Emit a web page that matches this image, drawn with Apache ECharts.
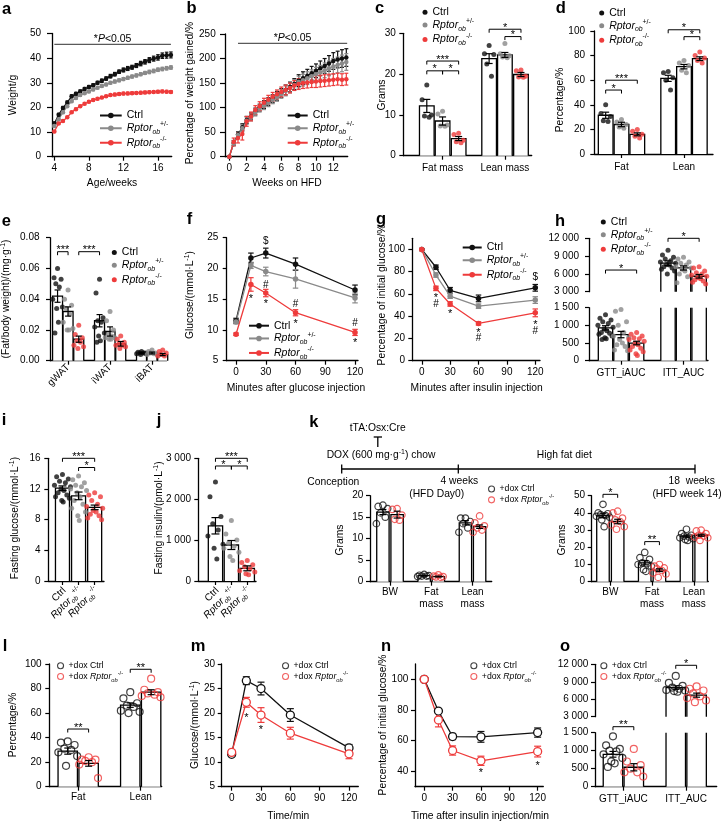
<!DOCTYPE html>
<html>
<head>
<meta charset="utf-8">
<script src="https://cdn.jsdelivr.net/npm/echarts@6.0.0/dist/echarts.min.js"></script>
<style>
html,body{margin:0;padding:0;background:#ffffff;}
#chart{width:721px;height:821px;}
</style>
</head>
<body>
<div id="chart"></div>
<script>
// ================= DATA =================
const groupNames = ['Ctrl', 'Rptor+/-', 'Rptor-/-'];
const doxNames = ['+dox Ctrl', '+dox Rptor-/-'];

// (a) body weight vs age
const aWeeks = [4,4.5,5,5.5,6,6.5,7,7.5,8,8.5,9,9.5,10,10.5,11,11.5,12,12.5,13,13.5,14,14.5,15,15.5,16,16.5,17,17.5];
const aCtrl = [13.5,17,19.8,22,24.5,25.5,26.5,27.5,28.3,29,30,30.8,31.7,32.7,33.5,34.5,35.2,35.8,36.3,37,37.8,38.5,39.2,39.8,40.3,41,41.2,41.3];
const aCtrlSem = [0.6,0.6,0.6,0.6,0.6,0.6,0.6,0.6,0.6,0.6,0.6,0.7,0.7,0.7,0.7,0.7,0.8,0.8,0.8,0.8,0.9,0.9,1,1,1.1,1.1,1.2,1.2];
const aHet = [12.5,15.2,18,20.5,22.5,23.8,25,25.8,26.5,27.3,28,28.7,29.3,30,30.5,31,31.5,32,32.5,33,33.5,34,34.4,34.8,35.3,35.6,35.9,36.2];
const aHetSem = [0.5,0.5,0.5,0.5,0.5,0.5,0.5,0.5,0.5,0.5,0.5,0.5,0.5,0.5,0.6,0.6,0.6,0.6,0.6,0.6,0.6,0.6,0.7,0.7,0.7,0.7,0.7,0.7];
const aKo = [10.2,13.5,14.5,16,18,19.3,20.5,21.5,22.3,23,23.5,24,24.5,25,25.2,25.4,25.6,25.7,25.8,25.9,26,26.1,26.2,26.3,26.4,26.5,26.4,26.3];
const aKoSem = [0.4,0.4,0.4,0.4,0.4,0.4,0.4,0.4,0.4,0.4,0.4,0.4,0.4,0.4,0.5,0.5,0.5,0.5,0.5,0.5,0.5,0.5,0.5,0.5,0.5,0.5,0.5,0.5];
const aXTicks = [4,8,12,16];
const aYTicks = [0,10,20,30,40,50];
const aSig = [4, 17.5, 45.6];

// (b) weight gained
const bWeeks = [0,0.5,1,1.5,2,2.5,3,3.5,4,4.5,5,5.5,6,6.5,7,7.5,8,8.5,9,9.5,10,10.5,11,11.5,12,12.5,13,13.5];
const bCtrl = [0,28,45,60,75,82,92,100,106,112,118,124,130,136,142,148,155,160,165,170,175,180,185,190,195,198,200,202];
const bCtrlSem = [0,5,6,7,7,7,7,7,8,8,8,9,9,10,10,11,12,13,13,14,14,15,15,16,17,17,18,18];
const bHet = [0,27,44,58,73,80,90,98,104,110,116,122,128,134,140,146,152,156,160,164,168,172,176,180,184,187,190,193];
const bHetSem = [0,5,6,7,7,7,7,7,8,8,8,9,9,10,10,11,12,12,13,13,14,14,15,15,16,16,17,17];
const bKo = [0,30,38,46,72,82,95,103,110,116,122,127,132,136,140,145,148,150,151,152,153,154,155,156,157,158,157,158];
const bKoSem = [0,8,10,12,10,9,9,9,9,9,9,9,10,10,10,10,11,11,11,11,12,12,12,12,12,12,12,12];
const bXTicks = [0,2,4,6,8,10,12];
const bYTicks = [0,50,100,150,200,250];
const bSig = [1, 13.6, 231];

// (c) body composition, grams
const cCats = ['Fat mass', 'Lean mass'];
const cYTicks = [0,10,20,30];
const cMeans = [[12.2,23.8],[8.5,24.7],[4.2,19.9]];
const cSems = [[1.6,1.2],[1.0,0.6],[0.5,0.5]];
const cDots = [
  [[17.3,13.7,10,9.7,9.4],[27,25,24.8,22.5,19.5]],
  [[10.9,10.2,7.5,7.2,7.3],[27.5,25,24.5,24,24.2]],
  [[5.5,5.2,3.8,3.4,3.2],[21,20.8,19.5,19.3,19.2]]];
const cBrackets = [[0,0,0,2,23.2,'***'],[0,0,0,1,20.8,'*'],[0,1,0,2,20.8,'*'],[1,0,1,2,31,'*'],[1,1,1,2,29.2,'*']];

// (d) body composition, %
const dCats = ['Fat', 'Lean'];
const dYTicks = [0,20,40,60,80,100];
const dMeans = [[31.5,61.5],[24,71],[16,77.5]];
const dSems = [[2.5,2.5],[1.8,1.8],[1.2,1.5]];
const dDots = [
  [[40,33,30.5,27,26.5],[67,66,62,60,52]],
  [[28,26,24,22,21],[76,74,72,68,66]],
  [[20,18.5,16,14.5,13],[83,80,78,76,74]]];
const dBrackets = [[0,0,0,1,52,'*'],[0,0,0,2,60,'***'],[1,0,1,2,101,'*'],[1,1,1,2,95.4,'*']];

// (e) fat depots
const eCats = ['gWAT', 'iWAT', 'iBAT'];
const eYTicks = [0,0.02,0.04,0.06,0.08];
const eMeans = [[0.042,0.026,0.005],[0.032,0.019,0.005],[0.014,0.011,0.004]];
const eSems = [[0.004,0.004,0.0005],[0.003,0.003,0.0006],[0.002,0.0015,0.0007]];
const eDots = [
  [[0.060,0.054,0.053,0.050,0.048,0.040,0.035,0.034,0.025,0.018],[0.053,0.044,0.028,0.026,0.025,0.022,0.018,0.016,0.013,0.012],[0.006,0.0055,0.005,0.005,0.0045,0.0045,0.004,0.005]],
  [[0.046,0.040,0.036,0.034,0.030,0.025,0.021,0.020,0.020],[0.032,0.026,0.020,0.017,0.016,0.015,0.015,0.014,0.014],[0.007,0.006,0.005,0.005,0.0045,0.004,0.004]],
  [[0.023,0.017,0.015,0.013,0.012,0.010,0.009,0.008],[0.016,0.014,0.012,0.011,0.010,0.010,0.009,0.008],[0.007,0.006,0.005,0.004,0.003,0.003]]];
const eBrackets = [[0,0,0,1,0.0709,'***'],[0,2,1,0,0.0709,'***']];

// (f) GTT
const fTimes = [0,15,30,60,120];
const fXTicks = [0,30,60,90,120];
const fYTicks = [5,10,15,20,25];
const fCtrl = [11.5,21.7,22.5,20.7,16.5];
const fCtrlSem = [0.4,0.8,0.8,1.0,0.8];
const fHet = [11.3,20.5,19.5,18.3,15.2];
const fHetSem = [0.3,0.5,0.7,1.5,0.8];
const fKo = [9.3,17.4,16.0,12.8,9.6];
const fKoSem = [0.2,1.1,0.6,0.5,0.5];
const fMarks = [[30,24.35,'$'],[15,15.4,'*'],[30,17.3,'#'],[30,14.6,'*'],[60,14.2,'#'],[60,11.3,'*'],[120,11.1,'#'],[120,8.25,'*']];

// (g) ITT
const gTimes = [0,15,30,60,120];
const gXTicks = [0,30,60,90,120];
const gYTicks = [0,20,40,60,80,100];
const gCtrl = [100,84,63.3,56,65.5];
const gCtrlSem = [0.5,2,2.5,3,3];
const gHet = [100,77,58,49,54.5];
const gHetSem = [0.5,2,2,2,3];
const gKo = [100,65,51,33.5,43];
const gKoSem = [0.5,2,2,1.5,3.5];
const gMarks = [[15,59,'*'],[15,50.6,'#'],[30,44,'*'],[60,27.5,'*'],[60,20,'#'],[120,75.4,'$'],[120,34,'*'],[120,26.7,'#']];

// (h) AUC
const hCats = ['GTT_iAUC', 'ITT_AUC'];
const hUpTicks = [3000,6000,9000,12000];
const hLowTicks = [0,500,1000,1500];
const hMeans = [[930,7800],[740,7000],[500,5600]];
const hSems = [[60,400],[90,350],[50,300]];
const hDots = [
  [[1300,1200,1150,1100,1050,1000,950,900,850,800,780,750,700,650,620,600],[10000,9200,8800,8500,8200,8000,7800,7600,7500,7200,7000,6800,6500,6000]],
  [[1450,1400,1100,1000,800,700,650,600,500,450,400,300,280],[8800,8500,8000,7800,7500,7200,7000,6800,6500,6000,5500,4500]],
  [[800,750,700,650,620,600,550,500,450,400,350,300,250,200,150],[7200,7000,6500,6200,6000,5800,5600,5400,5200,5000,4800,4600,4300]]];
const hBracketsUp = [[0,0,0,2,6650,'*'],[1,0,1,2,12000,'*']];

// (i) fasting glucose
const iCats = ['Ctrl', 'Rptor+/-', 'Rptor-/-'];
const iYTicks = [0,4,8,12,16];
const iMeans = [12.1,11.1,9.6];
const iSems = [0.3,0.5,0.3];
const iDots = [
  [13.9,13.6,13.3,13.0,12.8,12.5,12.3,12.0,11.8,11.5,11.2,11.0,10.8,10.5,10.3],
  [13.7,13.2,12.8,12.5,12.3,12.0,11.8,11.5,11.0,10.5,10.0,9.5,9.0,8.5,7.9],
  [11.5,11.2,11.0,10.5,10.0,9.7,9.5,9.2,9.0,8.7,8.5,8.2,8.0]];
const iBrackets = [[0,0,2,0,16,'***'],[1,0,2,0,14.8,'*']];

// (j) fasting insulin
const jCats = ['Ctrl', 'Rptor+/-', 'Rptor-/-'];
const jYTicks = [0,1000,2000,3000];
const jMeans = [1350,880,310];
const jSems = [200,110,60];
const jDots = [
  [2420,2060,1580,1400,1250,1100,900,800,540],
  [1480,1150,1000,920,850,800,700,600,500],
  [500,450,400,350,300,250,220,180,150]];
const jBrackets = [[0,0,2,0,3000,'***'],[0,0,1,0,2812,'*'],[1,0,2,0,2812,'*']];

// (k) dox model body composition
const kCats = ['BW', 'Fat\nmass', 'Lean\nmass'];
const kDay0Ticks = [0,5,10,15,20];
const kDay0Means = [[16.2,1.4,13.7],[15.6,1.2,12.8]];
const kDay0Sems = [[0.6,0.1,0.5],[0.8,0.1,0.4]];
const kDay0Dots = [
  [[17.8,17.5,17.0,16.0,15.0,13.5],[1.7,1.5,1.4,1.3,1.2,1.3],[14.8,14.8,14.0,13.5,12.5,11.5]],
  [[17.0,16.8,15.5,14.5,14.3],[1.6,1.3,1.2,1.0,1.1],[15.3,13.7,13.0,12.5,12.0,11.5]]];
const kWk14Ticks = [0,10,20,30,40,50];
const kWk14Means = [[38.5,11,26.5],[35,6.7,27]];
const kWk14Sems = [[1.3,1.2,0.6],[1.3,0.8,0.6]];
const kWk14Dots = [
  [[45,40,39.5,39,38.5,38,37.5,36,32],[17,14,13,11,10.5,10,9,7,6],[30.5,28,27,26.5,26,25.5,25,24.5,24]],
  [[41,40,37,36,35,33,32,30.5],[10,9,8,7.5,6.5,5,4.5,2.5],[30,29.5,28,27,26.5,26,25.5,24]]];
const kWk14Brackets = [[0,0,0,1,50.8,'*'],[1,0,1,1,23.3,'**']];

// (l) dox body composition %
const lCats = ['Fat', 'Lean'];
const lYTicks = [0,20,40,60,80,100];
const lMeans = [[29,66.5],[19,77]];
const lSems = [[2.5,1.8],[2.3,2.0]];
const lDots = [
  [[37,36,34,31,30,28,25,17],[77,72,68,66,65,62,61,60]],
  [[24,22,22,21,20,18,7],[88,79,77,76,75,74,73]]];
const lBrackets = [[0,0,0,1,47,'**'],[1,0,1,1,95.7,'**']];

// (m) dox GTT
const mTimes = [0,15,30,60,120];
const mXTicks = [0,30,60,90,120];
const mYTicks = [5,10,15,20,25,30];
const mCtrl = [11.6,26.6,25.0,19.6,12.9];
const mCtrlSem = [0.4,0.8,1.3,1.3,0.7];
const mKo = [12.0,22.2,19.6,15.9,11.7];
const mKoSem = [0.5,1.0,1.5,1.2,1.0];
const mMarks = [[15,19.6,'*'],[30,17.0,'*']];

// (n) dox ITT
const nTimes = [0,15,30,60,120];
const nXTicks = [0,30,60,90,120];
const nYTicks = [40,60,80,100];
const nCtrl = [100,79.3,62.7,62.5,65.3];
const nCtrlSem = [0.5,1.5,2,3.5,3];
const nKo = [100,73.5,53.6,46.9,52.9];
const nKoSem = [0.5,4.5,3,3,3.5];
const nMarks = [[60,40.4,'*'],[120,45,'*']];

// (o) dox AUC
const oCats = ['GTT_iAUC', 'ITT_AUC'];
const oUpTicks = [3000,6000,9000,12000];
const oLowTicks = [0,500,1000,1500];
const oMeans = [[900,8000],[540,6700]];
const oSems = [[80,300],[100,350]];
const oDots = [
  [[1400,1150,1050,1000,980,900,800,700,650,550],[10000,8800,8300,8000,7800,7600,7500,7400,7300]],
  [[1050,700,600,500,400,400,280],[8200,7800,7500,7000,6500,6200,5800,5500]]];
const oBracketsUp = [[1,0,1,1,11830,'*']];
const oBracketsLow = [[0,0,0,1,1667,'**']];

// ================= STYLE / BUILDERS =================
const FONT = '"Liberation Sans", Arial, Helvetica, sans-serif';
const C_BLK = '#111111', C_GRY = '#8a8a8a', C_RED = '#ee3b3b';
const GROUPS3 = [{name:'Ctrl', color:C_BLK}, {name:'Rptor+/-', color:C_GRY}, {name:'Rptor-/-', color:C_RED}];
const GROUPS2 = [{name:'+dox Ctrl', color:C_BLK, open:true}, {name:'+dox Rptor-/-', color:C_RED, open:true}];
const JIT = [0,-0.32,0.32,-0.16,0.16,-0.44,0.44,-0.08,0.08,-0.24,0.24,-0.38,0.38,-0.04,0.04,-0.2,0.2,-0.12];

const LEG = {
  'Ctrl': '{n|Ctrl}',
  'Rptor+/-': '{i|Rptor}{sb|ob}{sp|+/-}',
  'Rptor-/-': '{i|Rptor}{sb|ob}{sp|-/-}',
  '+dox Ctrl': '{n|+dox Ctrl}',
  '+dox Rptor-/-': '{m|+dox }{i|Rptor}{sb|ob}{sp|-/-}'
};
function legRich(fs) {
  return {
    n: {fontSize:fs, fontFamily:FONT, color:'#000', lineHeight:fs+1},
    m: {fontSize:fs, fontFamily:FONT, color:'#000', lineHeight:fs+4},
    i: {fontSize:fs, fontFamily:FONT, fontStyle:'italic', color:'#000', lineHeight:fs+4},
    sb:{fontSize:fs*0.66, fontFamily:FONT, fontStyle:'italic', color:'#000', verticalAlign:'bottom', lineHeight:fs*0.7},
    sp:{fontSize:fs*0.66, fontFamily:FONT, color:'#000', verticalAlign:'top', lineHeight:fs*0.7}
  };
}
function zrRich(fs) {
  return {
    n: {fontSize:fs, fontFamily:FONT, fill:'#000', lineHeight:fs+1},
    i: {fontSize:fs, fontFamily:FONT, fontStyle:'italic', fill:'#000', lineHeight:fs+4},
    sb:{fontSize:fs*0.66, fontFamily:FONT, fontStyle:'italic', fill:'#000', verticalAlign:'bottom', lineHeight:fs*0.7},
    sp:{fontSize:fs*0.66, fontFamily:FONT, fill:'#000', verticalAlign:'top', lineHeight:fs*0.7}
  };
}
const fmtK = v => String(v).replace(/\B(?=(\d{3})+(?!\d))/g, ' ');

const grids = [], xAxis = [], yAxis = [], series = [], legend = [], graphic = [];
function addGrid(l, r, t, b) {
  grids.push({left:l, top:t, width:r-l, height:b-t, containLabel:false, outerBoundsMode:'none', show:false});
  return grids.length - 1;
}
function vAxis(gi, min, max, o) {
  o = o || {};
  const lab = {show: !o.noLabel, color:'#000', fontSize:10, fontFamily:FONT,
    margin:(o.margin != null ? o.margin : 8), rotate:o.rotate || 0, customValues:o.ticks,
    showMinLabel:true, showMaxLabel:true, hideOverlap:false};
  if (o.fmt) lab.formatter = o.fmt;
  if (o.rich) lab.rich = o.rich;
  if (o.lh) lab.lineHeight = o.lh;
  return {gridIndex:gi, type:'value', min:min, max:max, show:o.show !== false,
    axisLine:{show:true, onZero:false, lineStyle:{color:'#000', width:1.3}},
    axisTick:{show:true, length:(o.tickLen || 4), customValues:o.ticks, lineStyle:{color:'#000', width:1.2}},
    axisLabel:lab, splitLine:{show:false}, minorTick:{show:false}, silent:true};
}
function addX(a) { xAxis.push(a); return xAxis.length - 1; }
function addY(a) { yAxis.push(a); return yAxis.length - 1; }

function errSeries(xi, yi, data, color, capPx, z) {
  return {type:'custom', xAxisIndex:xi, yAxisIndex:yi, z:z, silent:true, clip:false, data:data,
    renderItem: function (p, api) {
      const x = api.value(0), m = api.value(1), e = api.value(2);
      const hi = api.coord([x, m + e]), lo = api.coord([x, m - e]);
      const st = {stroke:color, lineWidth:1.2};
      return {type:'group', children:[
        {type:'line', shape:{x1:hi[0], y1:hi[1], x2:lo[0], y2:lo[1]}, style:st},
        {type:'line', shape:{x1:hi[0]-capPx/2, y1:hi[1], x2:hi[0]+capPx/2, y2:hi[1]}, style:st},
        {type:'line', shape:{x1:lo[0]-capPx/2, y1:lo[1], x2:lo[0]+capPx/2, y2:lo[1]}, style:st}]};
    }};
}

function linePanel(xi, yi, t, list, o) {
  list.forEach(function (s) {
    if (s.sems) series.push(errSeries(xi, yi, t.map((x, i) => [x, s.vals[i], s.sems[i]]), s.color, o.cap, 2));
    series.push({type:'line', name:s.name, xAxisIndex:xi, yAxisIndex:yi, z:3, silent:true,
      data:t.map((x, i) => [x, s.vals[i]]), symbol:'circle', symbolSize:o.sym, showSymbol:true,
      lineStyle:{color:s.color, width:1.3},
      itemStyle: s.open ? {color:'#ffffff', borderColor:s.color, borderWidth:1.3} : {color:s.color}});
  });
}

function groupSpecs(nCat, off, means, sems, dots, groups) {
  const out = [];
  groups.forEach(function (g, gi) {
    for (let c = 0; c < nCat; c++) {
      out.push({x:c + off[gi], mean:means[gi][c], sem:sems[gi][c], dots:dots[gi][c], name:g.name, color:g.color, open:g.open});
    }
  });
  return out;
}

function barPanel(xi, yi, specs, o) {
  const ymin = o.ymin, ymax = o.ymax, bw = o.bw;
  const inRange = v => v >= ymin - 1e-9 && v <= ymax + 1e-9;
  series.push({type:'custom', xAxisIndex:xi, yAxisIndex:yi, z:2, silent:true, clip:false,
    data: specs.map(s => [s.x, s.mean]),
    renderItem: function (p, api) {
      const x = api.value(0), m = api.value(1);
      if (m < ymin) return null;
      const top = Math.min(m, ymax);
      const bl = api.coord([x - bw/2, ymin]), br = api.coord([x + bw/2, ymin]);
      const tl = api.coord([x - bw/2, top]), tr = api.coord([x + bw/2, top]);
      const st = {stroke:'#000', lineWidth:1.3, fill:null};
      const ch = [{type:'rect', shape:{x:tl[0], y:tl[1], width:tr[0]-tl[0], height:bl[1]-tl[1]}, style:{fill:'#ffffff'}}];
      if (m <= ymax) ch.push({type:'polyline', shape:{points:[bl, tl, tr, br]}, style:st});
      else {
        ch.push({type:'line', shape:{x1:bl[0], y1:bl[1], x2:tl[0], y2:tl[1]}, style:st});
        ch.push({type:'line', shape:{x1:br[0], y1:br[1], x2:tr[0], y2:tr[1]}, style:st});
      }
      return {type:'group', children:ch};
    }});
  const byName = {}, order = [];
  specs.forEach(function (s) {
    if (!byName[s.name]) { byName[s.name] = {color:s.color, open:s.open, pts:[]}; order.push(s.name); }
    const sorted = s.dots.slice().sort((a, b) => b - a);
    sorted.forEach(function (v, i) {
      if (inRange(v)) byName[s.name].pts.push([s.x + JIT[i % JIT.length] * bw * (o.spread || 1), v]);
    });
  });
  order.forEach(function (k) {
    const g = byName[k];
    series.push({type:'scatter', name:k, xAxisIndex:xi, yAxisIndex:yi, z:4, silent:true, data:g.pts,
      symbol:'circle', symbolSize: g.open ? (o.openSize || 6.5) : (o.dotSize || 5),
      itemStyle: g.open ? {color:'rgba(255,255,255,0)', borderColor:g.color, borderWidth:1.2} : {color:g.color}});
  });
  const errs = specs.filter(s => inRange(s.mean)).map(s => [s.x, s.mean, s.sem]);
  series.push(errSeries(xi, yi, errs, '#000', o.cap || 7, 5));
}

// rotated category labels drawn through the axis scale (for narrow bar panels i, j)
function catLabelSeries(xi, yi, cats, ymin) {
  series.push({type:'custom', xAxisIndex:xi, yAxisIndex:yi, z:6, silent:true, clip:false,
    data: cats.map((c, k) => [k, ymin]),
    renderItem: function (p, api) {
      const c = api.coord([api.value(0), api.value(1)]);
      return {type:'text', x:c[0] + 2, y:c[1] + 8, rotation:Math.PI/4,
        style:{text:LEG[cats[p.dataIndex]], fill:'#000', fontSize:10, fontFamily:FONT, align:'right', verticalAlign:'middle', rich:zrRich(10)}};
    }});
}

function bracketSeries(xi, yi, list, off) {
  series.push({type:'custom', xAxisIndex:xi, yAxisIndex:yi, z:6, silent:true, clip:false,
    data: list.map(b => [b[0] + off[b[1]], b[2] + off[b[3]], b[4]]),
    renderItem: function (p, api) {
      const text = list[p.dataIndex][5];
      const p1 = api.coord([api.value(0), api.value(2)]), p2 = api.coord([api.value(1), api.value(2)]);
      const t = 3.5;
      return {type:'group', children:[
        {type:'polyline', shape:{points:[[p1[0], p1[1]+t], [p1[0], p1[1]], [p2[0], p2[1]], [p2[0], p2[1]+t]]}, style:{stroke:'#000', lineWidth:1, fill:null}},
        {type:'text', x:(p1[0]+p2[0])/2, y:p1[1]-1.5, style:{text:text, fill:'#000', fontSize:11, fontFamily:FONT, align:'center', verticalAlign:'middle'}}]};
    }});
}

function annSeries(xi, yi, list) {
  series.push({type:'custom', xAxisIndex:xi, yAxisIndex:yi, z:6, silent:true, clip:false,
    data: list.map(a => [a[0], a[1]]),
    renderItem: function (p, api) {
      const t = list[p.dataIndex][2];
      const c = api.coord([api.value(0), api.value(1)]);
      return {type:'text', x:c[0], y:c[1] + (t === '*' ? 2.5 : 0), style:{text:t, fill:'#000', fontSize:t === '*' ? 11 : 10, fontFamily:FONT, align:'center', verticalAlign:'middle'}};
    }});
}

function sigSeries(xi, yi, sig) {
  series.push({type:'custom', xAxisIndex:xi, yAxisIndex:yi, z:6, silent:true, clip:false, data:[sig],
    renderItem: function (p, api) {
      const a = api.coord([api.value(0), api.value(2)]), b = api.coord([api.value(1), api.value(2)]);
      return {type:'group', children:[
        {type:'line', shape:{x1:a[0], y1:a[1], x2:b[0], y2:b[1]}, style:{stroke:'#5a5a5a', lineWidth:1.3}},
        {type:'text', x:(a[0]+b[0])/2, y:a[1]-5, style:{text:'{n|*}{i|P}{n|<0.05}', fill:'#000', fontSize:10.5, fontFamily:FONT, align:'center', verticalAlign:'middle',
          rich:{n:{fontSize:10.5, fontFamily:FONT, fill:'#000'}, i:{fontSize:10.5, fontFamily:FONT, fontStyle:'italic', fill:'#000'}}}}]};
    }});
}

function mkLegend(names, left, top, o) {
  const L = {show:true, orient:'vertical', left:left, top:top, padding:0, data:names, selectedMode:false,
    itemWidth:o.iw, itemHeight:o.ih, itemGap:o.gap, formatter:n => LEG[n],
    textStyle:{color:'#000', fontFamily:FONT, fontSize:o.fs, rich:legRich(o.fs)}};
  if (o.icon) L.icon = o.icon;
  if (o.itemStyle) L.itemStyle = o.itemStyle;
  legend.push(L);
}

const TR = {
  n:{fontSize:10.3, fontFamily:FONT, fill:'#000', lineHeight:13},
  s:{fontSize:7, fontFamily:FONT, fill:'#000', verticalAlign:'top', lineHeight:7}
};
function gText(x, y, text, o) {
  o = o || {};
  graphic.push({type:'text', x:x, y:y, rotation:o.rot ? Math.PI/2 : 0, silent:true,
    style:{text:text, fill:'#000', fontSize:o.fs || 10.3, fontFamily:FONT, fontWeight:o.bold ? 'bold' : 'normal',
      align:o.align || 'center', verticalAlign:o.va || 'middle', rich:o.rich}});
}
function gLine(x1, y1, x2, y2) {
  graphic.push({type:'line', silent:true, shape:{x1:x1, y1:y1, x2:x2, y2:y2}, style:{stroke:'#000', lineWidth:1.3}});
}
const catTicks = cats => cats.map((_, i) => i);
const catFmt = cats => (v => cats[Math.round(v)]);

// ================= PANELS =================
// (a)
(function () {
  const g = addGrid(52, 171.7, 33.5, 156.7);
  const xi = addX(vAxis(g, 3.73, 17.59, {ticks:aXTicks, margin:7}));
  const yi = addY(vAxis(g, 0, 50, {ticks:aYTicks, margin:11, tickLen:5}));
  linePanel(xi, yi, aWeeks, [
    {name:'Ctrl', vals:aCtrl, sems:aCtrlSem, color:C_BLK},
    {name:'Rptor+/-', vals:aHet, sems:aHetSem, color:C_GRY},
    {name:'Rptor-/-', vals:aKo, sems:aKoSem, color:C_RED}], {sym:4.5, cap:3.5});
  sigSeries(xi, yi, aSig);
  mkLegend(groupNames, 99, 110, {iw:21.7, ih:7, gap:0, fs:10.5});
})();
// (b)
(function () {
  const g = addGrid(225, 347.7, 34, 156.7);
  const xi = addX(vAxis(g, -0.5, 13.66, {ticks:bXTicks, margin:7}));
  const yi = addY(vAxis(g, 0, 250, {ticks:bYTicks, margin:9.3, tickLen:5}));
  linePanel(xi, yi, bWeeks, [
    {name:'Ctrl', vals:bCtrl, sems:bCtrlSem, color:C_BLK},
    {name:'Rptor+/-', vals:bHet, sems:bHetSem, color:C_GRY},
    {name:'Rptor-/-', vals:bKo, sems:bKoSem, color:C_RED}], {sym:4.5, cap:4});
  sigSeries(xi, yi, bSig);
  mkLegend(groupNames, 286.7, 110, {iw:20, ih:7, gap:0, fs:10.5});
})();
// (c)
(function () {
  const g = addGrid(403.3, 531.7, 33.3, 155.7);
  const xi = addX(vAxis(g, -0.63, 1.43, {ticks:catTicks(cCats), fmt:catFmt(cCats), margin:8}));
  const yi = addY(vAxis(g, 0, 30, {ticks:cYTicks, margin:7.5}));
  const off = [-0.253, 0, 0.258];
  barPanel(xi, yi, groupSpecs(cCats.length, off, cMeans, cSems, cDots, GROUPS3), {bw:0.235, ymin:0, ymax:30});
  bracketSeries(xi, yi, cBrackets, off);
  mkLegend(groupNames, 422.5, 6.8, {icon:'circle', iw:5, ih:5, gap:0, fs:10.5});
})();
// (d)
(function () {
  const g = addGrid(594.3, 713, 31, 154);
  const xi = addX(vAxis(g, -0.435, 1.464, {ticks:catTicks(dCats), fmt:catFmt(dCats), margin:8}));
  const yi = addY(vAxis(g, 0, 100, {ticks:dYTicks, margin:9.3}));
  const off = [-0.253, 0, 0.253];
  barPanel(xi, yi, groupSpecs(dCats.length, off, dMeans, dSems, dDots, GROUPS3), {bw:0.235, ymin:0, ymax:100});
  bracketSeries(xi, yi, dBrackets, off);
  mkLegend(groupNames, 599.2, 7.5, {icon:'circle', iw:5, ih:5, gap:0, fs:10.5});
})();
// (e)
(function () {
  const g = addGrid(50, 166.7, 237.7, 360.7);
  const xi = addX(vAxis(g, -0.43, 2.35, {ticks:catTicks(eCats), fmt:catFmt(eCats), margin:5, rotate:45}));
  const yi = addY(vAxis(g, 0, 0.08, {ticks:eYTicks, fmt:v => v.toFixed(2), margin:10.5}));
  const off = [-0.25, 0, 0.255];
  barPanel(xi, yi, groupSpecs(eCats.length, off, eMeans, eSems, eDots, GROUPS3), {bw:0.238, ymin:0, ymax:0.08, spread:1.1, cap:6});
  bracketSeries(xi, yi, eBrackets, off);
  mkLegend(groupNames, 111.8, 247, {icon:'circle', iw:5, ih:5, gap:0, fs:10.5});
})();
// (f)
(function () {
  const g = addGrid(226.7, 358, 237.7, 360.7);
  const xi = addX(vAxis(g, -9.4, 123, {ticks:fXTicks, margin:7}));
  const yi = addY(vAxis(g, 5, 25, {ticks:fYTicks, margin:8.3}));
  linePanel(xi, yi, fTimes, [
    {name:'Ctrl', vals:fCtrl, sems:fCtrlSem, color:C_BLK},
    {name:'Rptor+/-', vals:fHet, sems:fHetSem, color:C_GRY},
    {name:'Rptor-/-', vals:fKo, sems:fKoSem, color:C_RED}], {sym:5.5, cap:5.5});
  annSeries(xi, yi, fMarks);
  mkLegend(groupNames, 248, 320.2, {iw:20, ih:7, gap:0, fs:10.5});
})();
// (g)
(function () {
  const g = addGrid(412.3, 540, 238.3, 360.7);
  const xi = addX(vAxis(g, -10, 125, {ticks:gXTicks, margin:7}));
  const yi = addY(vAxis(g, 0, 110, {ticks:gYTicks, margin:7.3}));
  linePanel(xi, yi, gTimes, [
    {name:'Ctrl', vals:gCtrl, sems:gCtrlSem, color:C_BLK},
    {name:'Rptor+/-', vals:gHet, sems:gHetSem, color:C_GRY},
    {name:'Rptor-/-', vals:gKo, sems:gKoSem, color:C_RED}], {sym:5.5, cap:5.5});
  annSeries(xi, yi, gMarks);
  mkLegend(groupNames, 461.7, 242, {iw:19, ih:7, gap:0, fs:10.5});
})();
// (h) broken axis
(function () {
  const off = [-0.248, 0, 0.25];
  const specs = groupSpecs(hCats.length, off, hMeans, hSems, hDots, GROUPS3);
  const gU = addGrid(589, 708, 238.3, 291.7);
  const xU = addX(vAxis(gU, -0.512, 1.392, {show:false}));
  const yU = addY(vAxis(gU, 3000, 12000, {ticks:hUpTicks, fmt:fmtK, margin:10}));
  barPanel(xU, yU, specs, {bw:0.23, ymin:3000, ymax:12000, spread:1.2});
  bracketSeries(xU, yU, hBracketsUp, off);
  const gL = addGrid(589, 708, 307.7, 360.7);
  const xL = addX(vAxis(gL, -0.512, 1.392, {ticks:catTicks(hCats), fmt:catFmt(hCats), margin:8}));
  const yL = addY(vAxis(gL, 0, 1500, {ticks:hLowTicks, fmt:fmtK, margin:10}));
  barPanel(xL, yL, specs, {bw:0.23, ymin:0, ymax:1500, spread:1.2});
  mkLegend(groupNames, 600.8, 216.5, {icon:'circle', iw:5, ih:5, gap:0, fs:10.5});
})();
// (i)
(function () {
  const g = addGrid(48.3, 104, 458.3, 581);
  const xi = addX(vAxis(g, -0.88, 2.58, {ticks:catTicks(iCats), noLabel:true}));
  const yi = addY(vAxis(g, 0, 16, {ticks:iYTicks, margin:7.7}));
  const specs = iCats.map((c, k) => ({x:k, mean:iMeans[k], sem:iSems[k], dots:iDots[k], name:GROUPS3[k].name, color:GROUPS3[k].color}));
  barPanel(xi, yi, specs, {bw:0.87, ymin:0, ymax:16, spread:1.3, cap:8});
  bracketSeries(xi, yi, iBrackets, [0]);
  catLabelSeries(xi, yi, iCats, 0);
})();
// (j)
(function () {
  const g = addGrid(198.3, 256, 458.3, 581);
  const xi = addX(vAxis(g, -1.08, 2.55, {ticks:catTicks(jCats), noLabel:true}));
  const yi = addY(vAxis(g, 0, 3000, {ticks:jYTicks, fmt:fmtK, margin:7.3}));
  const specs = jCats.map((c, k) => ({x:k, mean:jMeans[k], sem:jSems[k], dots:jDots[k], name:GROUPS3[k].name, color:GROUPS3[k].color}));
  barPanel(xi, yi, specs, {bw:0.9, ymin:0, ymax:3000, spread:1.2, cap:8});
  bracketSeries(xi, yi, jBrackets, [0]);
  catLabelSeries(xi, yi, jCats, 0);
})();
// (k) left & right
(function () {
  const off = [-0.172, 0.172];
  const g1 = addGrid(370, 491.7, 495.7, 581.7);
  const x1 = addX(vAxis(g1, -0.485, 2.465, {ticks:catTicks(kCats), fmt:catFmt(kCats), margin:5, lh:12}));
  const y1 = addY(vAxis(g1, 0, 20, {ticks:kDay0Ticks, margin:6.7}));
  barPanel(x1, y1, groupSpecs(kCats.length, off, kDay0Means, kDay0Sems, kDay0Dots, GROUPS2), {bw:0.30, ymin:0, ymax:20, spread:1.2});
  const off2 = [-0.176, 0.176];
  const g2 = addGrid(591.7, 708.3, 495.7, 581.7);
  const x2 = addX(vAxis(g2, -0.446, 2.347, {ticks:catTicks(kCats), fmt:catFmt(kCats), margin:5, lh:12}));
  const y2 = addY(vAxis(g2, 0, 50, {ticks:kWk14Ticks, margin:6.7}));
  barPanel(x2, y2, groupSpecs(kCats.length, off2, kWk14Means, kWk14Sems, kWk14Dots, GROUPS2), {bw:0.30, ymin:0, ymax:50, spread:1.2});
  bracketSeries(x2, y2, kWk14Brackets, off2);
  mkLegend(doxNames, 488, 484.5, {icon:'circle', iw:6, ih:6, gap:0, fs:8.7, itemStyle:{color:'#ffffff', borderColor:'inherit', borderWidth:1.1}});
})();
// (l)
(function () {
  const off = [-0.167, 0.167];
  const g = addGrid(49.3, 161.7, 664, 786.7);
  const xi = addX(vAxis(g, -0.462, 1.336, {ticks:catTicks(lCats), fmt:catFmt(lCats), margin:5.5}));
  const yi = addY(vAxis(g, 0, 100, {ticks:lYTicks, margin:7.7}));
  barPanel(xi, yi, groupSpecs(lCats.length, off, lMeans, lSems, lDots, GROUPS2), {bw:0.31, ymin:0, ymax:100, spread:1.1, openSize:7});
  bracketSeries(xi, yi, lBrackets, off);
  mkLegend(doxNames, 57, 661.2, {icon:'circle', iw:6, ih:6, gap:0, fs:8.7, itemStyle:{color:'#ffffff', borderColor:'inherit', borderWidth:1.1}});
})();
// (m)
(function () {
  const g = addGrid(221.7, 358.3, 664, 786.7);
  const xi = addX(vAxis(g, -10.2, 129.5, {ticks:mXTicks, margin:7}));
  const yi = addY(vAxis(g, 5, 30, {ticks:mYTicks, margin:6.7}));
  linePanel(xi, yi, mTimes, [
    {name:'+dox Ctrl', vals:mCtrl, sems:mCtrlSem, color:C_BLK, open:true},
    {name:'+dox Rptor-/-', vals:mKo, sems:mKoSem, color:C_RED, open:true}], {sym:8, cap:7});
  annSeries(xi, yi, mMarks);
  mkLegend(doxNames, 282, 661.2, {icon:'circle', iw:6, ih:6, gap:0, fs:8.7, itemStyle:{color:'#ffffff', borderColor:'inherit', borderWidth:1.1}});
})();
// (n)
(function () {
  const g = addGrid(415, 543.3, 664, 786.7);
  const xi = addX(vAxis(g, -9.8, 126, {ticks:nXTicks, margin:7}));
  const yi = addY(vAxis(g, 30, 110, {ticks:nYTicks, margin:6.7}));
  linePanel(xi, yi, nTimes, [
    {name:'+dox Ctrl', vals:nCtrl, sems:nCtrlSem, color:C_BLK, open:true},
    {name:'+dox Rptor-/-', vals:nKo, sems:nKoSem, color:C_RED, open:true}], {sym:8, cap:7});
  annSeries(xi, yi, nMarks);
  mkLegend(doxNames, 470.3, 661.2, {icon:'circle', iw:6, ih:6, gap:0, fs:8.7, itemStyle:{color:'#ffffff', borderColor:'inherit', borderWidth:1.1}});
})();
// (o) broken axis
(function () {
  const off = [-0.166, 0.166];
  const specs = groupSpecs(oCats.length, off, oMeans, oSems, oDots, GROUPS2);
  const gU = addGrid(595, 716.7, 664.3, 716.7);
  const xU = addX(vAxis(gU, -0.452, 1.486, {show:false}));
  const yU = addY(vAxis(gU, 3000, 12000, {ticks:oUpTicks, fmt:fmtK, margin:6.7}));
  barPanel(xU, yU, specs, {bw:0.31, ymin:3000, ymax:12000, spread:1.1, openSize:7});
  bracketSeries(xU, yU, oBracketsUp, off);
  const gL = addGrid(595, 716.7, 732.7, 786.7);
  const xL = addX(vAxis(gL, -0.452, 1.486, {ticks:catTicks(oCats), fmt:catFmt(oCats), margin:8}));
  const yL = addY(vAxis(gL, 0, 1500, {ticks:oLowTicks, fmt:fmtK, margin:6.7}));
  barPanel(xL, yL, specs, {bw:0.31, ymin:0, ymax:1500, spread:1.1, openSize:7});
  bracketSeries(xL, yL, oBracketsLow, off);
  mkLegend(doxNames, 600.3, 661.2, {icon:'circle', iw:6, ih:6, gap:0, fs:8.7, itemStyle:{color:'#ffffff', borderColor:'inherit', borderWidth:1.1}});
})();

// ================= TEXT / DIAGRAM =================
const letters = [['a',2,9.5],['b',186.5,8],['c',375,8.5],['d',555.7,8],['e',1.7,221],['f',186.7,219.5],['g',376,219.5],['h',555,221],
  ['i',1.7,420],['j',156.7,420],['k',309.3,422.5],['l',2.7,646],['m',190.7,646],['n',381,646],['o',560,646]];
letters.forEach(l => gText(l[1], l[2], l[0], {bold:true, fs:16.5, align:'left'}));

const axisTitles = [
  ['{n|Weight/g}', 13, 95, true],
  ['{n|Age/weeks}', 112, 183, false],
  ['{n|Percentage of weight gained/%}', 190, 93, true],
  ['{n|Weeks on HFD}', 287, 183, false],
  ['{n|Grams}', 381.7, 95, true],
  ['{n|Percentage/%}', 560, 100, true],
  ['{n|(Fat/body weight)/(mg·g}{s|-1}{n|)}', 6, 299, true],
  ['{n|Glucose/(mmol·L}{s|-1}{n|)}', 190, 295, true],
  ['{n|Minutes after glucose injection}', 296, 388, false],
  ['{n|Percentage of initial glucose/%}', 381.7, 295, true],
  ['{n|Minutes after insulin injection}', 476.7, 388, false],
  ['{n|Fasting glucose/(mmol·L}{s|-1}{n|)}', 15, 518, true],
  ['{n|Fasting insulin/(pmol·L}{s|-1}{n|)}', 159.3, 518, true],
  ['{n|Grams}', 340, 540, true],
  ['{n|Grams}', 561.7, 540, true],
  ['{n|Percentage/%}', 13.3, 725, true],
  ['{n|Glucose/(mmol·L}{s|-1}{n|)}', 195, 725, true],
  ['{n|Time/min}', 288.3, 816, false],
  ['{n|Percentage of initial glucose/%}', 383.3, 725, true],
  ['{n|Time after insulin injection/min}', 480, 816, false]
];
axisTitles.forEach(t => gText(t[1], t[2], t[0], {rot:t[3], rich:TR}));

// (k) timeline diagram
gLine(341.7, 469, 695, 469);
gLine(341.7, 464.5, 341.7, 473.5);
gLine(458.3, 464.5, 458.3, 473.5);
gLine(695, 464.5, 695, 473.5);
gText(377.7, 428.3, '{n|tTA:Osx:Cre}', {rich:TR});
gLine(373.7, 437, 382, 437);
gLine(377.8, 437, 377.8, 447);
gText(381, 455, '{n|DOX (600 mg·g}{s|-1}{n|) chow}', {rich:TR});
gText(564.3, 455, '{n|High fat diet}', {rich:TR});
gText(333.3, 482.3, '{n|Conception}', {rich:TR});
gText(459.3, 480.7, '{n|4 weeks}', {rich:TR});
gText(436.7, 494, '{n|(HFD Day0)}', {rich:TR});
gText(691.7, 480.7, '{n|18  weeks}', {rich:TR});
gText(687, 494, '{n|(HFD week 14)}', {rich:TR});

const chart = echarts.init(document.getElementById('chart'), null, {renderer:'canvas', width:721, height:821});
chart.setOption({
  animation:false,
  backgroundColor:'#ffffff',
  textStyle:{fontFamily:FONT},
  grid:grids, xAxis:xAxis, yAxis:yAxis, series:series, legend:legend,
  graphic:{elements:graphic}
});
</script>
</body>
</html>
